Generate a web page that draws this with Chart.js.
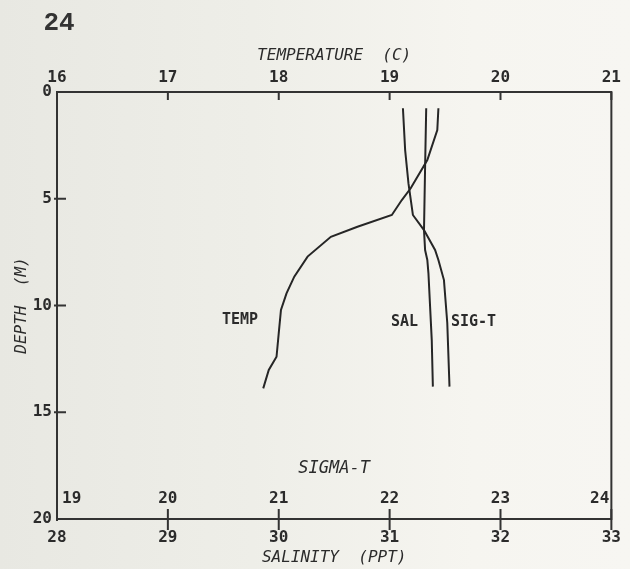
<!DOCTYPE html>
<html>
<head>
<meta charset="utf-8">
<script src="https://cdn.jsdelivr.net/npm/chart.js@4.4.1/dist/chart.umd.min.js"></script>
<style>
  html, body { margin: 0; padding: 0; }
  body { width: 630px; height: 569px; overflow: hidden;
         background: linear-gradient(90deg, #e8e8e2 0%, #eeeee8 40%, #f6f5f0 75%, #f7f6f2 100%); }
  canvas { display: block; }
</style>
</head>
<body>
<canvas id="profile" width="630" height="569"></canvas>
<script>
// --- data ---
const depthTicks = [0, 5, 10, 15, 20];
const tempTicks = [16, 17, 18, 19, 20, 21];
const salTicks = [28, 29, 30, 31, 32, 33];
const sigmaTicks = [19, 20, 21, 22, 23, 24];

// temperature (C) vs depth (m)
const tempDepth = [0.76, 1.78, 3.19, 4.51, 5.06, 5.76, 6.31, 6.78, 7.71, 8.65, 9.43, 10.21, 11.29, 12.40, 13.02, 13.88];
const tempValues = [19.44, 19.43, 19.34, 19.19, 19.11, 19.02, 18.71, 18.47, 18.26, 18.14, 18.07, 18.02, 18.00, 17.98, 17.91, 17.86];

// salinity (ppt) vs depth
const salDepth = [0.76, 3.50, 6.47, 7.40, 7.87, 8.48, 11.62, 13.80];
const salValues = [31.33, 31.32, 31.31, 31.32, 31.34, 31.35, 31.38, 31.39];

// sigma-t vs depth
const sigDepth = [0.76, 2.72, 4.28, 5.76, 6.47, 7.40, 7.87, 8.81, 10.82, 13.80];
const sigValues = [22.12, 22.14, 22.17, 22.21, 22.31, 22.41, 22.44, 22.49, 22.52, 22.54];

const ink = '#2b2b2b';
const mono = '"DejaVu Sans Mono", monospace';

function pts(xs, ys) { return xs.map((v, i) => ({ x: v, y: ys[i] })); }
function setTicks(arr) { return scale => { scale.ticks = arr.map(v => ({ value: v })); }; }

// frame, inward tick marks, sigma-t labels, curve labels
const plotterExtras = {
  id: 'plotterExtras',
  afterDraw(chart) {
    const { ctx, chartArea: a, scales } = chart;
    const yS = scales.y, tS = scales.xTemp, sS = scales.xSal, gS = scales.xSig;
    ctx.save();
    ctx.strokeStyle = '#333';
    ctx.lineWidth = 2;
    ctx.strokeRect(a.left, a.top, a.right - a.left, a.bottom - a.top);

    ctx.beginPath();
    tempTicks.forEach(v => {
      const x = tS.getPixelForValue(v);
      ctx.moveTo(x, a.top); ctx.lineTo(x, a.top + 8);
    });
    salTicks.forEach((v, i) => {
      const x = sS.getPixelForValue(v);
      ctx.moveTo(x, a.bottom - (i === 0 ? 0 : 10)); ctx.lineTo(x, a.bottom + (i === 0 ? 2 : 11));
    });
    depthTicks.slice(1, -1).forEach(v => {
      const y = yS.getPixelForValue(v);
      ctx.moveTo(a.left - 3, y); ctx.lineTo(a.left + 9, y);
    });
    ctx.stroke();

    ctx.fillStyle = ink;
    ctx.textBaseline = 'middle';
    ctx.font = 'bold 16px ' + mono;
    sigmaTicks.forEach((v, i) => {
      let x = gS.getPixelForValue(v);
      ctx.textAlign = 'center';
      if (i === 0) { ctx.textAlign = 'left'; x += 5; }
      if (i === sigmaTicks.length - 1) { ctx.textAlign = 'right'; x -= 2; }
      ctx.fillText(String(v), x, a.bottom - 20);
    });
    ctx.textAlign = 'center';
    ctx.font = 'italic 17px ' + mono;
    ctx.fillText('SIGMA-T', (a.left + a.right) / 2, a.bottom - 50);

    ctx.font = 'bold 15px ' + mono;
    ctx.fillText('TEMP', tS.getPixelForValue(17.65), yS.getPixelForValue(10.68));
    ctx.fillText('SAL', sS.getPixelForValue(31.135), yS.getPixelForValue(10.77));
    ctx.fillText('SIG-T', gS.getPixelForValue(22.757), yS.getPixelForValue(10.77));

    // page number of the scanned report
    ctx.font = 'bold 26px "Liberation Mono", monospace';
    ctx.fillStyle = '#333';
    ctx.fillText('24', 59, 23);
    ctx.restore();
  }
};

const lineStyle = { showLine: true, borderColor: '#262626', borderWidth: 2, pointRadius: 0, tension: 0, fill: false };

new Chart(document.getElementById('profile'), {
  type: 'scatter',
  data: {
    datasets: [
      { label: 'TEMP', data: pts(tempValues, tempDepth), xAxisID: 'xTemp', ...lineStyle },
      { label: 'SAL', data: pts(salValues, salDepth), xAxisID: 'xSal', ...lineStyle },
      { label: 'SIG-T', data: pts(sigValues, sigDepth), xAxisID: 'xSig', ...lineStyle }
    ]
  },
  options: {
    responsive: false,
    animation: false,
    layout: { padding: { left: 0, right: 14, top: 0, bottom: 0 } },
    plugins: { legend: { display: false }, tooltip: { enabled: false } },
    scales: {
      y: {
        type: 'linear', position: 'left', reverse: true, min: 0, max: 20,
        afterBuildTicks: setTicks(depthTicks),
        afterFit: s => { s.width = 57; },
        grid: { display: false, drawTicks: false }, border: { display: false },
        ticks: { color: ink, font: { family: mono, size: 16, weight: 'bold' }, padding: 5, autoSkip: false },
        title: { display: true, text: 'DEPTH  (M)', color: ink, font: { family: mono, size: 16, style: 'italic' }, padding: { top: 12, bottom: 0 } }
      },
      xTemp: {
        type: 'linear', position: 'top', min: 16, max: 21,
        afterBuildTicks: setTicks(tempTicks),
        afterFit: s => { s.height = 92; },
        grid: { display: false, drawTicks: false }, border: { display: false },
        ticks: { color: ink, font: { family: mono, size: 16, weight: 'bold' }, padding: 5, autoSkip: false, maxRotation: 0 },
        title: { display: true, text: 'TEMPERATURE  (C)', color: ink, font: { family: mono, size: 16, style: 'italic' }, padding: { top: 46, bottom: 0 } }
      },
      xSal: {
        type: 'linear', position: 'bottom', min: 28, max: 33,
        afterBuildTicks: setTicks(salTicks),
        afterFit: s => { s.height = 50; },
        grid: { display: false, drawTicks: false }, border: { display: false },
        ticks: { color: ink, font: { family: mono, size: 16, weight: 'bold' }, padding: 9, autoSkip: false, maxRotation: 0 },
        title: { display: true, text: 'SALINITY  (PPT)', color: ink, font: { family: mono, size: 16, style: 'italic' }, padding: { top: 0, bottom: 2 } }
      },
      xSig: {
        type: 'linear', position: 'bottom', min: 19, max: 24, display: false
      }
    }
  },
  plugins: [plotterExtras]
});
</script>
</body>
</html>
